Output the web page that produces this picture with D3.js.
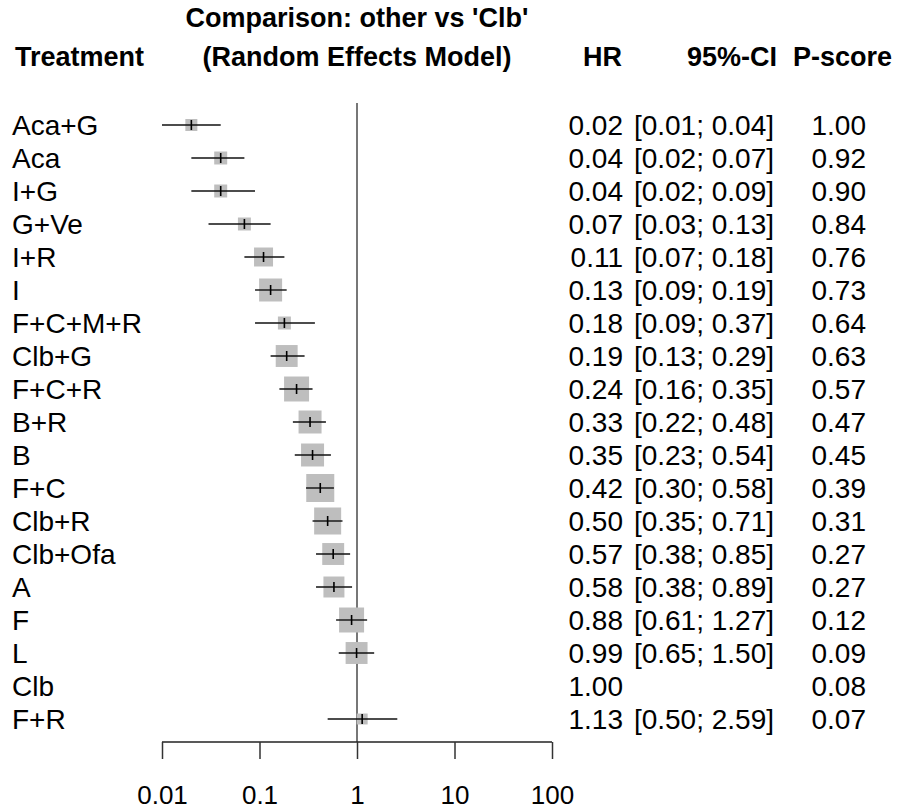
<!DOCTYPE html>
<html>
<head>
<meta charset="utf-8">
<script src="https://cdn.jsdelivr.net/npm/d3@7"></script>
<style>
  body { margin: 0; background: #fff; }
  text { font-family: "Liberation Sans", Arial, sans-serif; }
</style>
</head>
<body>
<div id="chart"></div>
<script>
////////
// Network meta-analysis results, each treatment vs 'Clb'
let treatments = ["Aca+G", "Aca", "I+G", "G+Ve", "I+R", "I", "F+C+M+R", "Clb+G",
  "F+C+R", "B+R", "B", "F+C", "Clb+R", "Clb+Ofa", "A", "F", "L", "Clb", "F+R"];
let hr = [0.02, 0.04, 0.04, 0.07, 0.11, 0.13, 0.18, 0.19, 0.24, 0.33, 0.35, 0.42,
  0.50, 0.57, 0.58, 0.88, 0.99, 1.00, 1.13];
let lower = [0.01, 0.02, 0.02, 0.03, 0.07, 0.09, 0.09, 0.13, 0.16, 0.22, 0.23, 0.30,
  0.35, 0.38, 0.38, 0.61, 0.65, null, 0.50];
let upper = [0.04, 0.07, 0.09, 0.13, 0.18, 0.19, 0.37, 0.29, 0.35, 0.48, 0.54, 0.58,
  0.71, 0.85, 0.89, 1.27, 1.50, null, 2.59];
let pscore = [1.00, 0.92, 0.90, 0.84, 0.76, 0.73, 0.64, 0.63, 0.57, 0.47, 0.45, 0.39,
  0.31, 0.27, 0.27, 0.12, 0.09, 0.08, 0.07];
// relative weight of each comparison (square area)
let weight = [18, 21, 21, 21, 45, 66, 21, 60, 78, 66, 66, 98, 91, 60, 55, 78, 60, 0, 15];
let xTicks = [0.01, 0.1, 1, 10, 100];

let rows = treatments.map((t, i) => ({
  name: t, hr: hr[i], lo: lower[i], hi: upper[i], p: pscore[i], w: weight[i]
}));

////////
// Canvas
let svg_width = 898;
let svg_height = 809;

let svg = d3.select("#chart")
  .append("svg")
  .attr("width", svg_width)
  .attr("height", svg_height);

////////
// Scales
let xScale = d3.scaleLog()
  .domain([0.01, 100])
  .range([162, 552]);

let yScale = d3.scalePoint()
  .domain(treatments)
  .range([125, 719]);

let boxScale = d3.scaleSqrt()
  .domain([0, 100])
  .range([0, 28.3]);

let fmt = d3.format(".2f");
let fs = 28;

////////
// Column headers
let head = svg.append("g")
  .attr("font-weight", "bold")
  .attr("font-size", 27)
  .attr("fill", "#000");

head.append("text").attr("x", 15).attr("y", 66).text("Treatment");
head.append("text").attr("x", 357).attr("y", 27).attr("text-anchor", "middle")
  .text("Comparison: other vs 'Clb'");
head.append("text").attr("x", 357).attr("y", 66).attr("text-anchor", "middle")
  .text("(Random Effects Model)");
head.append("text").attr("x", 622).attr("y", 66).attr("text-anchor", "end").text("HR");
head.append("text").attr("x", 777).attr("y", 66).attr("text-anchor", "end").text("95%-CI");
head.append("text").attr("x", 892).attr("y", 66).attr("text-anchor", "end").text("P-score");

////////
// Reference line at HR = 1
svg.append("line")
  .attr("x1", xScale(1)).attr("x2", xScale(1))
  .attr("y1", 103).attr("y2", 742)
  .attr("stroke", "#555")
  .attr("stroke-width", 1.6);

////////
// Squares, confidence intervals and estimate marks
let marks = svg.selectAll("g.row")
  .data(rows.filter(d => d.lo != null))
  .enter()
  .append("g")
  .attr("class", "row")
  .attr("transform", d => `translate(0,${yScale(d.name)})`);

marks.append("rect")
  .attr("x", d => xScale(d.hr) - boxScale(d.w) / 2)
  .attr("y", d => -boxScale(d.w) / 2)
  .attr("width", d => boxScale(d.w))
  .attr("height", d => boxScale(d.w))
  .attr("fill", "#bebebe");

marks.append("line")
  .attr("x1", d => xScale(d.lo))
  .attr("x2", d => xScale(d.hi))
  .attr("stroke", "#111")
  .attr("stroke-width", 1.4);

marks.append("line")
  .attr("x1", d => xScale(d.hr))
  .attr("x2", d => xScale(d.hr))
  .attr("y1", -5).attr("y2", 5)
  .attr("stroke", "#000")
  .attr("stroke-width", 1.6);

////////
// Text columns
let txt = svg.selectAll("g.txt")
  .data(rows)
  .enter()
  .append("g")
  .attr("class", "txt")
  .attr("font-size", fs)
  .attr("fill", "#000")
  .attr("transform", d => `translate(0,${yScale(d.name) + 10})`);

txt.append("text").attr("x", 12).text(d => d.name);
txt.append("text").attr("x", 623).attr("text-anchor", "end").text(d => fmt(d.hr));
txt.append("text").attr("x", 774).attr("text-anchor", "end")
  .text(d => d.lo == null ? "" : `[${fmt(d.lo)}; ${fmt(d.hi)}]`);
txt.append("text").attr("x", 866).attr("text-anchor", "end").text(d => fmt(d.p));

////////
// Log axis along the bottom
let xAxis = d3.axisBottom(xScale)
  .tickValues(xTicks)
  .tickFormat(d => String(d))
  .tickSize(17)
  .tickPadding(27);

let ax = svg.append("g")
  .attr("transform", "translate(0,742)")
  .call(xAxis);

ax.select(".domain").attr("d", `M${xScale(0.01)},0H${xScale(100)}`)
  .attr("stroke", "#222").attr("stroke-width", 1.3);
ax.selectAll(".tick line").attr("stroke", "#333").attr("stroke-width", 1.5);
ax.selectAll(".tick text")
  .attr("font-family", "Liberation Sans, Arial, sans-serif")
  .attr("font-size", 26)
  .attr("fill", "#000");
</script>
</body>
</html>
